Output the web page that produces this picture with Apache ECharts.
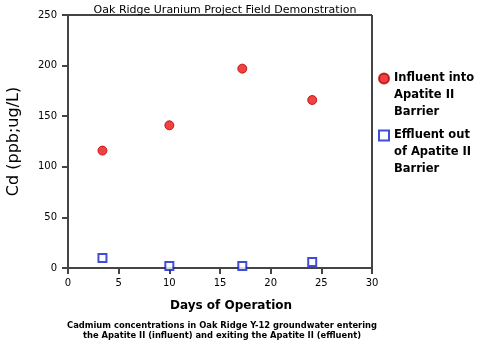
<!DOCTYPE html>
<html>
<head>
<meta charset="utf-8">
<script src="https://cdn.jsdelivr.net/npm/echarts@6/dist/echarts.min.js"></script>
<style>
  html, body { margin: 0; padding: 0; background: #fff; }
  #chart { width: 500px; height: 352px; }
</style>
</head>
<body>
<div id="chart"></div>
<script>
// values
const days = [3.4, 10, 17.2, 24.1]
const influent = [116, 141, 197, 166]
const effluent = [10, 2, 2, 6]
const seriesNames = ['Influent into', 'Effluent out']
// the legend shows the first line, the rest is written below it
const legendRest = ['Apatite II\nBarrier', 'of Apatite II\nBarrier']

const axisColor = '#444'
const legendFont = { fontFamily: 'DejaVu Sans', fontSize: 11.5, fontWeight: 'bold', color: '#000', lineHeight: 17 }
const chart = echarts.init(document.getElementById('chart'))

function pairs(xs, ys) {
    let out = []
    for (let i = 0; i < xs.length; i++) {
        out.push([xs[i], ys[i]])
    }
    return out
}

function restText(x, y, text) {
    return {
        type: 'text',
        style: {
            x: x, y: y, text: text,
            fontFamily: legendFont.fontFamily, fontSize: legendFont.fontSize, fontWeight: 'bold',
            fill: '#000', lineHeight: 17
        }
    }
}

const option = {
    animation: false,
    backgroundColor: '#fff',
    title: {
        text: 'Oak Ridge Uranium Project Field Demonstration',
        left: 220,
        textAlign: 'center',
        top: 0,
        textStyle: { fontFamily: 'DejaVu Sans', fontSize: 11, fontWeight: 'normal', color: '#000' }
    },
    grid: { left: 68, right: 128, top: 15, bottom: 84, outerBoundsMode: 'none' },
    legend: {
        orient: 'vertical',
        left: 378,
        top: 70,
        padding: 0,
        itemGap: 40,
        itemWidth: 10,
        itemHeight: 10,
        data: seriesNames,
        textStyle: legendFont
    },
    xAxis: {
        type: 'value',
        min: 0, max: 30, interval: 5,
        name: 'Days of Operation',
        nameLocation: 'middle',
        nameGap: 32,
        nameTextStyle: { fontFamily: 'DejaVu Sans', fontSize: 12, fontWeight: 'bold', color: '#000', padding: [0, 0, 0, 22] },
        axisLine: { lineStyle: { color: axisColor, width: 2 } },
        axisTick: { length: 6, lineStyle: { color: axisColor, width: 2 } },
        axisLabel: { fontFamily: 'DejaVu Sans', fontSize: 10, color: '#000', margin: 10 },
        splitLine: { show: false }
    },
    yAxis: {
        type: 'value',
        min: 0, max: 250, interval: 50,
        name: 'Cd (ppb;ug/L)',
        nameLocation: 'middle',
        nameGap: 46,
        nameTextStyle: { fontFamily: 'DejaVu Sans', fontSize: 16, color: '#000' },
        axisLine: { lineStyle: { color: axisColor, width: 2 } },
        axisTick: { length: 6, lineStyle: { color: axisColor, width: 2 } },
        axisLabel: { fontFamily: 'DejaVu Sans', fontSize: 10, color: '#000', margin: 11 },
        splitLine: { show: false }
    },
    graphic: [
        // frame: top and right edges of the plot box
        { type: 'line', shape: { x1: 68, y1: 15, x2: 372, y2: 15 }, style: { stroke: axisColor, lineWidth: 2 } },
        { type: 'line', shape: { x1: 372, y1: 15, x2: 372, y2: 268 }, style: { stroke: axisColor, lineWidth: 2 } },
        restText(394, 87, legendRest[0]),
        restText(394, 144, legendRest[1]),
        {
            type: 'text',
            style: {
                x: 222, y: 321,
                text: 'Cadmium concentrations in Oak Ridge Y-12 groundwater entering\nthe Apatite II (influent) and exiting the Apatite II (effluent)',
                fontFamily: 'DejaVu Sans Condensed', fontSize: 9.3, fontWeight: 'bold',
                fill: '#000', align: 'center', lineHeight: 10
            }
        }
    ],
    series: [
        {
            name: seriesNames[0],
            type: 'scatter',
            symbol: 'circle',
            symbolSize: 9,
            data: pairs(days, influent),
            itemStyle: { color: '#ee1111', borderColor: '#b00000', borderWidth: 1 }
        },
        {
            name: seriesNames[1],
            type: 'scatter',
            symbol: 'rect',
            symbolSize: 8,
            data: pairs(days, effluent),
            itemStyle: { color: '#fff', borderColor: '#1020d0', borderWidth: 2 }
        }
    ]
}

chart.setOption(option, true)
</script>
</body>
</html>
